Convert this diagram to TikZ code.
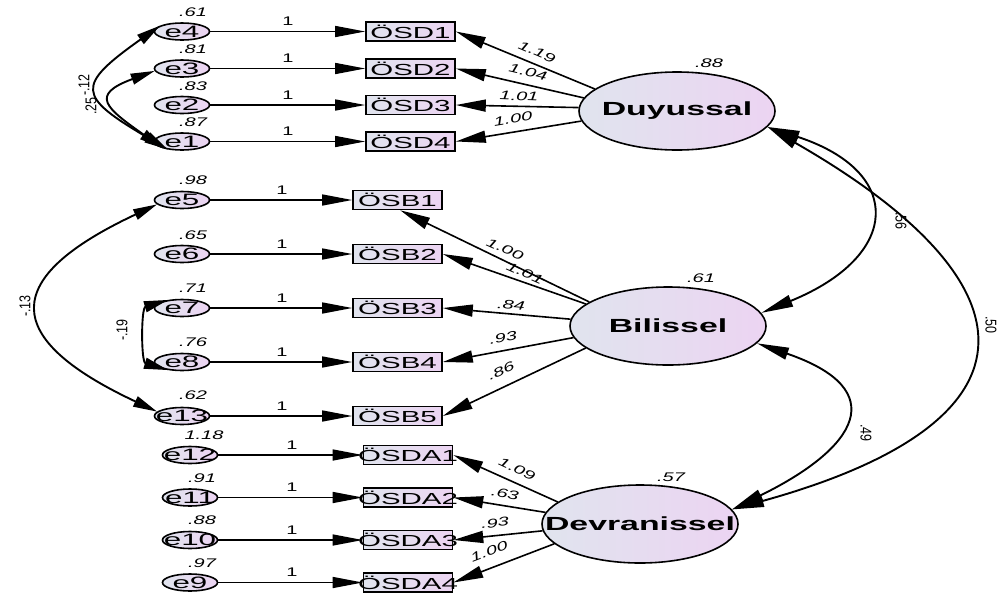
\documentclass[tikz,border=0pt]{standalone}
\usepackage{fontspec}
\setmainfont{Liberation Sans}
\usetikzlibrary{shapes.geometric,arrows.meta,calc}
\definecolor{cL}{RGB}{224,228,238}
\definecolor{cR}{RGB}{236,212,242}
\newcommand\hE[1]{\makebox[0pt]{\scalebox{1.9}[1]{#1}}}
\newcommand\hB[1]{\makebox[0pt]{\scalebox{1.84}[1]{#1}}}
\newcommand\hL[1]{\makebox[0pt]{\scalebox{1.78}[1]{#1}}}
\newcommand\hS[1]{\scalebox{1.6}[1]{#1}}
\newcommand\hR[1]{\scalebox{1.6}[1]{#1}}
\newcommand\vT[1]{\scalebox{1}[1.25]{#1}}
\tikzset{
 shadetwo/.style={left color=cL, right color=cR},
 errnode/.style={ellipse, draw, line width=1.6pt, minimum width=55pt, minimum height=17pt, inner sep=0pt, shadetwo, font=\fontsize{16.5}{16}\selectfont},
 obsnode/.style={rectangle, draw, line width=1.6pt, minimum width=89pt, minimum height=19pt, inner sep=0pt, shadetwo, font=\fontsize{16}{16}\selectfont},
 latnode/.style={ellipse, draw, line width=1.6pt, minimum width=196pt, minimum height=78pt, inner sep=0pt, shadetwo, font=\bfseries\fontsize{19}{19}\selectfont},
 reg/.style={-{Triangle[length=30pt,width=11pt]}, line width=1.4pt},
 load/.style={-{Triangle[length=30pt,width=12pt]}, line width=1.6pt},
 cov/.style={{Triangle[length=32pt,width=12pt]}-{Triangle[length=32pt,width=12pt]}, line width=1.9pt},
 ecov/.style={{Triangle[length=24pt,width=11pt]}-{Triangle[length=24pt,width=11pt]}, line width=1.9pt},
 num/.style={font=\itshape\fontsize{12.5}{13}\selectfont, inner sep=0pt},
 one/.style={font=\fontsize{12.5}{13}\selectfont, inner sep=0pt},
 cnum/.style={font=\fontsize{12.5}{13}\selectfont, inner sep=0pt},
}
\begin{document}
\begin{tikzpicture}[x=1pt,y=-1pt]
\useasboundingbox (0,0) rectangle (1002,598);
% latent variables
\node[latnode] (Duy) at (677,111) {\hL{Duyussal}};
\node[latnode] (Bil) at (668,326) {\hL{Bilissel}};
\node[latnode] (Dev) at (640,524) {\hL{Devranissel}};
% error terms
\node[errnode] (e4) at (182,31.5) {\hE{e4}};
\node[errnode] (e3) at (182,68.5) {\hE{e3}};
\node[errnode] (e2) at (182,105) {\hE{e2}};
\node[errnode] (e1) at (182,141.5) {\hE{e1}};
\node[errnode] (e5) at (182,200) {\hE{e5}};
\node[errnode] (e6) at (182,254) {\hE{e6}};
\node[errnode] (e7) at (182,308) {\hE{e7}};
\node[errnode] (e8) at (182,362) {\hE{e8}};
\node[errnode] (e13) at (182,416) {\hE{e13}};
\node[errnode] (e12) at (190,455) {\hE{e12}};
\node[errnode] (e11) at (190,497.5) {\hE{e11}};
\node[errnode] (e10) at (190,540) {\hE{e10}};
\node[errnode] (e9) at (190,582.5) {\hE{e9}};
% observed
\node[obsnode] (s1) at (410.5,31.5) {\hB{ÖSD1}};
\node[obsnode] (s2) at (410.5,68.5) {\hB{ÖSD2}};
\node[obsnode] (s3) at (410.5,105) {\hB{ÖSD3}};
\node[obsnode] (s4) at (410.5,141.5) {\hB{ÖSD4}};
\node[obsnode] (b1) at (397.5,200) {\hB{ÖSB1}};
\node[obsnode] (b2) at (397.5,254) {\hB{ÖSB2}};
\node[obsnode] (b3) at (397.5,308) {\hB{ÖSB3}};
\node[obsnode] (b4) at (397.5,362) {\hB{ÖSB4}};
\node[obsnode] (b5) at (397.5,416) {\hB{ÖSB5}};
\node[obsnode] (d1) at (408,455) {\hB{ÖSDA1}};
\node[obsnode] (d2) at (408,497.5) {\hB{ÖSDA2}};
\node[obsnode] (d3) at (408,540) {\hB{ÖSDA3}};
\node[obsnode] (d4) at (408,582.5) {\hB{ÖSDA4}};
% error -> indicator
\foreach \a/\b in {e4/s1,e3/s2,e2/s3,e1/s4,e5/b1,e6/b2,e7/b3,e8/b4,e13/b5,e12/d1,e11/d2,e10/d3,e9/d4}
  \draw[reg] (\a) -- (\b);
% "1" labels
\foreach \x/\y [count=\i] in {288/21,288/58,288/95,288/131,282/190,282/244,282/298,282/352,282/406,292/445,292/487,292/530,292/572}
  \node[one] (one\i) at (\x,\y) {\hS{1}};
% variances
\foreach \x/\y/\t [count=\i] in {193/12/.61,193/49/.81,193/86/.83,193/122/.87,193/180/.98,193/235/.65,193/288/.71,193/342/.76,193/395/.62,204/435/1.18,202/478/.91,202/520/.88,202/563/.97,709/63/.88,701/278/.61,671/477/.57}
  \node[num] (var\i) at (\x,\y) {\hS{\t}};
% loadings
\draw[load] (Duy.165) -- (s1.east);
\draw[load] (Duy.172) -- (s2.east);
\draw[load] (Duy.178) -- (s3.east);
\draw[load] (Duy.186) -- (s4.east);
\draw[load] (Bil.163) -- (b1.-75);
\draw[load] (Bil.165) -- (b2.east);
\draw[load] (Bil.176) -- (b3.east);
\draw[load] (Bil.187) -- (b4.east);
\draw[load] (Bil.195) -- (b5.east);
\draw[load] (Dev.165) -- (d1.east);
\draw[load] (Dev.173) -- (d2.east);
\draw[load] (Dev.184) -- (d3.east);
\draw[load] (Dev.193) -- (d4.east);
% loading labels
\node[num,rotate=-23] (L1) at (537,52) {\hR{1.19}};
\node[num,rotate=-13] (L2) at (528,72) {\hR{1.04}};
\node[num,rotate=-2] (L3) at (519,96) {\hR{1.01}};
\node[num,rotate=9] (L4) at (513,119) {\hR{1.00}};
\node[num,rotate=-24] (L5) at (505,249) {\hR{1.00}};
\node[num,rotate=-24] (L6) at (525,273) {\hR{1.01}};
\node[num,rotate=-5] (L7) at (511,305) {\hR{.84}};
\node[num,rotate=11] (L8) at (503,338) {\hR{.93}};
\node[num,rotate=25] (L9) at (501,371) {\hR{.86}};
\node[num,rotate=-25] (L10) at (517,469) {\hR{1.09}};
\node[num,rotate=-10] (L11) at (505,494) {\hR{.63}};
\node[num,rotate=6] (L12) at (495,523) {\hR{.93}};
\node[num,rotate=21] (L13) at (489,551) {\hR{1.00}};
% latent covariances
\draw[cov] (Duy.-10) .. controls (905,172) and (901,256) .. (Bil.8);
\draw[cov] (Duy.-10) .. controls (1035,280) and (1055,420) .. (Dev.9);
\draw[cov] (Bil.-11) .. controls (893,390) and (857,448) .. (Dev.9);
\node[cnum,rotate=-90] (c1) at (901,221) {\vT{.56}};
\node[cnum,rotate=-90] (c2) at (866,433) {\vT{.49}};
\node[cnum,rotate=-90] (c3) at (991,325) {\vT{.50}};
% error covariances
\draw[ecov] (e4.165) .. controls (75,86) and (77,96) .. (e1.210);
\draw[ecov] (e3.185) .. controls (89,95) and (106,108) .. (e1.200);
\draw[ecov] (e5.190) .. controls (0,278) and (0,338) .. (e13.170);
\draw[ecov] (e7.150) .. controls (141,308) and (141,362) .. (e8.210);
\node[cnum,rotate=90] (c4) at (91,106) {\vT{.25}};
\node[cnum,rotate=90] (c5) at (84,85) {\vT{-.12}};
\node[cnum,rotate=90] (c6) at (25,306) {\vT{-.13}};
\node[cnum,rotate=90] (c7) at (122,330) {\vT{-.19}};
\end{tikzpicture}
\end{document}
